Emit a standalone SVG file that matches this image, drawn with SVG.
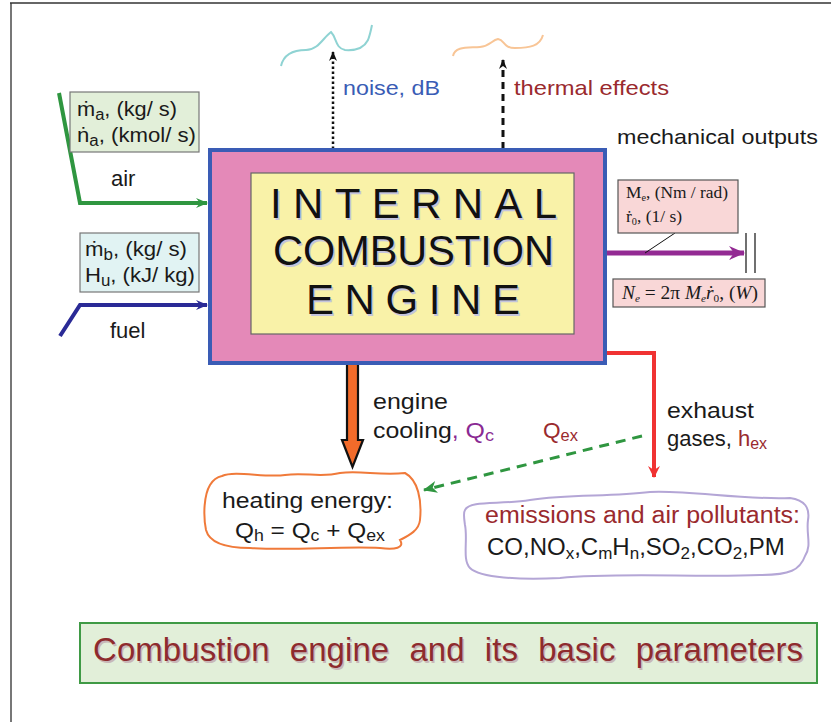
<svg xmlns="http://www.w3.org/2000/svg" width="831" height="722" viewBox="0 0 831 722">
<style>
.t{font-family:"Liberation Sans",Arial,sans-serif;font-size:21px;fill:#1a1a1a}
.s{font-family:"Liberation Serif","Times New Roman",serif;font-size:17px;fill:#1a1a1a}
.big{font-family:"Liberation Sans",Arial,sans-serif;font-size:42px;fill:#111}
.sh{font-family:"Liberation Sans",Arial,sans-serif;font-size:42px;fill:#c4c4dc}
.brown{fill:#9a2a2e}
</style>
<defs>
<marker id="ag" viewBox="0 0 12 10" refX="11" refY="5" markerWidth="12" markerHeight="10" markerUnits="userSpaceOnUse" orient="auto"><path d="M0,0 L12,5 L0,10 L4,5 Z" fill="#2f9640"/></marker>
<marker id="ab" viewBox="0 0 12 10" refX="11" refY="5" markerWidth="12" markerHeight="10" markerUnits="userSpaceOnUse" orient="auto"><path d="M0,0 L12,5 L0,10 L4,5 Z" fill="#2a2a96"/></marker>
<marker id="ap" viewBox="0 0 16 14" refX="15" refY="7" markerWidth="16" markerHeight="14" markerUnits="userSpaceOnUse" orient="auto"><path d="M0,0 L16,7 L0,14 L5,7 Z" fill="#932a93"/></marker>
<marker id="ar" viewBox="0 0 12 12" refX="11" refY="6" markerWidth="12" markerHeight="12" markerUnits="userSpaceOnUse" orient="auto"><path d="M0,0 L12,6 L0,12 L4,6 Z" fill="#f03232"/></marker>
<marker id="ak" viewBox="0 0 10 8" refX="9" refY="4" markerWidth="10" markerHeight="8" markerUnits="userSpaceOnUse" orient="auto"><path d="M0,0 L10,4 L0,8 L3,4 Z" fill="#111"/></marker>
<marker id="adg" viewBox="0 0 14 12" refX="13" refY="6" markerWidth="14" markerHeight="12" markerUnits="userSpaceOnUse" orient="auto"><path d="M0,0 L14,6 L0,12 L4,6 Z" fill="#2f9640"/></marker>
</defs>
<rect width="831" height="722" fill="#fff"/>
<g id="frame">
<line x1="11" y1="3" x2="11" y2="722" stroke="#777" stroke-width="2"/>
<line x1="10" y1="3" x2="831" y2="3" stroke="#333" stroke-width="1.5"/>
</g>

<g id="waves" fill="none" stroke-width="2">
<path d="M281,66 C284,53 296,50 306,50 C318,50 323,38 331,32 C337,38 335,48 345,50 C358,51 365,46 368,40 C370,35 371,30 372,25" stroke="#8fd3d3"/>
<path d="M453,56 C455,46 468,48 480,47 C490,46 492,40 498,39 C505,40 503,48 515,48 C530,48 540,46 543,35" stroke="#f8c596"/>
</g>

<g id="connectors" fill="none">
<line x1="333" y1="149" x2="333" y2="52" stroke="#111" stroke-width="2.5" stroke-dasharray="2.5,2.5" marker-end="url(#ak)"/>
<line x1="503" y1="149" x2="503" y2="60" stroke="#111" stroke-width="3" stroke-dasharray="7,5" marker-end="url(#ak)"/>
<polyline points="59,93 80,203 207,203" stroke="#2f9640" stroke-width="4" marker-end="url(#ag)"/>
<polyline points="60,336 80,305 207,305" stroke="#2a2a96" stroke-width="4" marker-end="url(#ab)"/>
<line x1="606" y1="253" x2="744" y2="253" stroke="#932a93" stroke-width="5" marker-end="url(#ap)"/>
<line x1="746" y1="233" x2="746" y2="273" stroke="#111" stroke-width="1.2"/>
<line x1="755" y1="233" x2="755" y2="273" stroke="#111" stroke-width="1.2"/>
<line x1="675" y1="233" x2="645" y2="253" stroke="#111" stroke-width="1"/>
<polyline points="605,353 654,353 654,477" stroke="#f03232" stroke-width="4" marker-end="url(#ar)"/>
<line x1="642" y1="436" x2="424" y2="490" stroke="#2f9640" stroke-width="3" stroke-dasharray="10,7" marker-end="url(#adg)"/>
<polygon points="347,364 358,364 358,440 363,440 352.5,467 342,440 347,440" fill="#f26b2a" stroke="#111" stroke-width="2.2" stroke-linejoin="miter"/>
</g>

<g id="engine">
<rect x="210" y="150" width="395" height="213" fill="#e489b8" stroke="#3a5cb5" stroke-width="4"/>
<rect x="251" y="173" width="323" height="161" fill="#f9f2a8" stroke="#666" stroke-width="1.2"/>
<text class="sh" x="271.5" y="219.5" textLength="287" lengthAdjust="spacing">INTERNAL</text>
<text class="big" x="270" y="218" textLength="287" lengthAdjust="spacing">INTERNAL</text>
<text class="sh" x="274.5" y="266.5" textLength="281" lengthAdjust="spacingAndGlyphs">COMBUSTION</text>
<text class="big" x="273" y="265" textLength="281" lengthAdjust="spacingAndGlyphs">COMBUSTION</text>
<text class="sh" x="307.5" y="315.5" textLength="214" lengthAdjust="spacing">ENGINE</text>
<text class="big" x="306" y="314" textLength="214" lengthAdjust="spacing">ENGINE</text>
</g>

<g id="noise">
<text class="t" x="343" y="95" style="fill:#3a5cb5" textLength="97" lengthAdjust="spacingAndGlyphs">noise, dB</text>
</g>
<g id="thermal">
<text class="t brown" x="514" y="95" textLength="155" lengthAdjust="spacingAndGlyphs">thermal effects</text>
</g>
<g id="mech-label">
<text class="t" x="617" y="144" textLength="201" lengthAdjust="spacingAndGlyphs">mechanical outputs</text>
</g>

<g id="air">
<rect x="70" y="92" width="129" height="60" fill="#e2efd9" stroke="#777" stroke-width="1.2"/>
<text class="t" x="77" y="116" textLength="100" lengthAdjust="spacingAndGlyphs">ṁ<tspan font-size="16" dy="4">a</tspan><tspan dy="-4">, (kg/ s)</tspan></text>
<text class="t" x="77" y="142" textLength="119" lengthAdjust="spacingAndGlyphs">ṅ<tspan font-size="16" dy="4">a</tspan><tspan dy="-4">, (kmol/ s)</tspan></text>
<text class="t" x="111" y="186" style="font-size:22px">air</text>
</g>

<g id="fuel">
<rect x="80" y="233" width="119" height="59" fill="#e1f3f3" stroke="#777" stroke-width="1.2"/>
<text class="t" x="85" y="256" textLength="102" lengthAdjust="spacingAndGlyphs">ṁ<tspan font-size="16" dy="4">b</tspan><tspan dy="-4">, (kg/ s)</tspan></text>
<text class="t" x="85" y="282" textLength="110" lengthAdjust="spacingAndGlyphs">H<tspan font-size="16" dy="4">u</tspan><tspan dy="-4">, (kJ/ kg)</tspan></text>
<text class="t" x="110" y="338" style="font-size:22px">fuel</text>
</g>

<g id="mechanical">
<rect x="618" y="180" width="120" height="53" fill="#f9d7d7" stroke="#555" stroke-width="1.2"/>
<text class="s" x="626" y="198" textLength="102" lengthAdjust="spacingAndGlyphs">M<tspan font-size="10" dy="3">e</tspan><tspan dy="-3">,  (Nm / rad)</tspan></text>
<text class="s" x="626" y="222" textLength="56" lengthAdjust="spacingAndGlyphs">ṙ<tspan font-size="10" dy="3">0</tspan><tspan dy="-3">,  (1/ s)</tspan></text>
<rect x="613" y="279" width="152" height="28" fill="#f9d7d7" stroke="#555" stroke-width="1.2"/>
<text class="s" x="622" y="299" style="font-size:19px" textLength="136" lengthAdjust="spacingAndGlyphs"><tspan font-style="italic">N</tspan><tspan font-size="11" dy="3" font-style="italic">e</tspan><tspan dy="-3"> = 2π </tspan><tspan font-style="italic">M</tspan><tspan font-size="11" dy="3" font-style="italic">e</tspan><tspan dy="-3" font-style="italic">ṙ</tspan><tspan font-size="11" dy="3">0</tspan><tspan dy="-3">,   (</tspan><tspan font-style="italic">W</tspan><tspan>)</tspan></text>
</g>

<g id="cooling-label">
<text class="t" x="373" y="409" style="font-size:22px" textLength="75" lengthAdjust="spacingAndGlyphs">engine</text>
<text class="t" x="373" y="438" style="font-size:22px" textLength="121" lengthAdjust="spacingAndGlyphs">cooling<tspan fill="#8a2a93">, Q<tspan font-size="16" dy="3">c</tspan></tspan></text>
<text class="t brown" x="543" y="438" style="font-size:22px" textLength="35" lengthAdjust="spacingAndGlyphs">Q<tspan font-size="16" dy="3">ex</tspan></text>
</g>

<g id="exhaust-label">
<text class="t" x="667" y="418" style="font-size:22px" textLength="87" lengthAdjust="spacingAndGlyphs">exhaust</text>
<text class="t" x="667" y="446" style="font-size:22px">gases, <tspan class="brown">h<tspan font-size="16" dy="3">ex</tspan></tspan></text>
</g>

<g id="heating">
<path d="M222,476 C235,470 265,478 285,475 C305,472 320,478 340,473 C360,470 380,476 405,473 C418,480 422,500 420,520 C419,530 410,535 400,540 C405,548 395,550 380,548 C340,546 290,551 250,548 C230,548 210,545 206,530 C203,515 204,495 210,485 C213,480 217,477 222,476 Z" fill="#fff" stroke="#f07a3a" stroke-width="2"/>
<text class="t" x="222" y="508" style="font-size:22px" textLength="171" lengthAdjust="spacingAndGlyphs">heating energy:</text>
<text class="t" x="235" y="538" style="font-size:22px" textLength="150" lengthAdjust="spacingAndGlyphs">Q<tspan font-size="16" dy="3">h</tspan><tspan dy="-3"> = Q</tspan><tspan font-size="16" dy="3">c</tspan><tspan dy="-3"> + Q</tspan><tspan font-size="16" dy="3">ex</tspan></text>
</g>

<g id="emissions">
<path d="M465,510 C470,500 500,505 530,500 C570,494 610,497 650,492 C690,490 740,500 790,498 C805,500 810,508 808,520 C806,535 812,545 805,556 C800,570 790,575 760,575 C700,578 620,572 560,578 C520,580 480,578 470,568 C462,560 468,540 465,525 C464,518 463,513 465,510 Z" fill="#fff" stroke="#b4a6d6" stroke-width="2"/>
<text class="t brown" x="485" y="523" style="font-size:23px" textLength="315" lengthAdjust="spacingAndGlyphs">emissions and air pollutants:</text>
<text class="t" x="487" y="555" style="font-size:24px">CO,NO<tspan font-size="17" dy="4">x</tspan><tspan dy="-4">,C</tspan><tspan font-size="17" dy="4">m</tspan><tspan dy="-4">H</tspan><tspan font-size="17" dy="4">n</tspan><tspan dy="-4">,SO</tspan><tspan font-size="17" dy="4">2</tspan><tspan dy="-4">,CO</tspan><tspan font-size="17" dy="4">2</tspan><tspan dy="-4">,PM</tspan></text>
</g>

<g id="title">
<rect x="80" y="623" width="737" height="60" fill="#e2efd9" stroke="#3f9a45" stroke-width="2"/>
<text x="94.5" y="662.5" font-family="'Liberation Sans',Arial,sans-serif" font-size="33" fill="#c8b8b8" textLength="710" lengthAdjust="spacing" word-spacing="11">Combustion engine and its basic parameters</text>
<text x="93" y="661" font-family="'Liberation Sans',Arial,sans-serif" font-size="33" fill="#8e2b2e" textLength="710" lengthAdjust="spacing" word-spacing="11">Combustion engine and its basic parameters</text>
</g>
</svg>
